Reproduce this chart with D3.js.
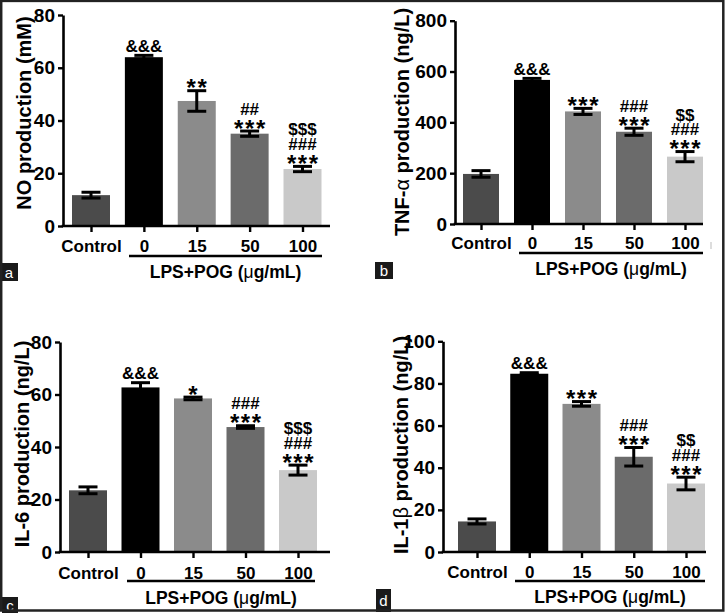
<!DOCTYPE html>
<html><head><meta charset="utf-8">
<script src="https://cdn.jsdelivr.net/npm/d3@7"></script>
<style>
body{margin:0;background:#fff}
svg{display:block}
text{font-family:"Liberation Sans",Arial,Helvetica,sans-serif;}
</style>
</head><body>
<svg id="chart" width="726" height="614"></svg>
<script>
// ---------- data ----------
const categories = ["Control", "0", "15", "50", "100"];
const groupLabel = "LPS+POG (μg/mL)";

const noMeans = [11.7, 64.0, 47.4, 35.0, 21.6];
const noErrs  = [1.1, 0.7, 3.9, 1.0, 1.0];
const noMarks = [[], ["&&&"], ["**"], ["***", "##"], ["***", "###", "$$$"]];
const noTicks = [0, 20, 40, 60, 80];

const tnfMeans = [197, 567, 443, 363, 265];
const tnfErrs  = [13, 6, 12, 14, 20];
const tnfMarks = [[], ["&&&"], ["***"], ["***", "###"], ["***", "###", "$$"]];
const tnfTicks = [0, 200, 400, 600, 800];

const il6Means = [23.5, 62.7, 58.5, 47.6, 31.2];
const il6Errs  = [1.3, 1.8, 0.5, 0.5, 1.9];
const il6Marks = [[], ["&&&"], ["*"], ["***", "###"], ["***", "###", "$$$"]];
const il6Ticks = [0, 20, 40, 60, 80];

const il1bMeans = [14.5, 84.6, 70.3, 45.2, 32.5];
const il1bErrs  = [1.2, 0.5, 1.1, 4.4, 3.0];
const il1bMarks = [[], ["&&&"], ["***"], ["***", "###"], ["***", "###", "$$"]];
const il1bTicks = [0, 20, 40, 60, 80, 100];

const barColors = ["#4b4b4b", "#000000", "#8b8b8b", "#6b6b6b", "#c9c9c9"];

// ---------- layout ----------
const panels = [
  {label: "a", title: "NO production (mM)", means: noMeans, errs: noErrs, marks: noMarks, ticks: noTicks,
   axisX: 63, yBottom: 226, yTop: 15, cx0: 91, cx1: 302.5, barW: 38, axisEnd: 330, catPad: 8,
   lineY: 256, lineX0: 129, lineX1: 322, groupY: 278, titleX: 24, titleY: 113,
   box: {x: 0, y: 263, w: 18, h: 18}},
  {label: "b", title: "TNF-α production (ng/L)", means: tnfMeans, errs: tnfErrs, marks: tnfMarks, ticks: tnfTicks,
   axisX: 455, yBottom: 224, yTop: 20.7, cx0: 481, cx1: 685, barW: 36, axisEnd: 703, catPad: 7,
   lineY: 253, lineX0: 519, lineX1: 703, groupY: 275, titleX: 402, titleY: 122,
   box: {x: 375, y: 262, w: 18, h: 17}},
  {label: "c", title: "IL-6 production (ng/L)", means: il6Means, errs: il6Errs, marks: il6Marks, ticks: il6Ticks,
   axisX: 60, yBottom: 552, yTop: 342, cx0: 88, cx1: 298, barW: 38, axisEnd: 330, catPad: 9,
   lineY: 581, lineX0: 127, lineX1: 315, groupY: 604, titleX: 22, titleY: 444,
   box: {x: 2, y: 597, w: 16, h: 16}},
  {label: "d", title: "IL-1β production (ng/L)", means: il1bMeans, errs: il1bErrs, marks: il1bMarks, ticks: il1bTicks,
   axisX: 443, yBottom: 552, yTop: 341.3, cx0: 477, cx1: 686, barW: 38, axisEnd: 706, catPad: 7.5,
   lineY: 581, lineX0: 515, lineX1: 705, groupY: 603, titleX: 401, titleY: 445,
   box: {x: 376, y: 589, w: 15, h: 23}}
];

const svg = d3.select("#chart");
svg.append("rect").attr("width", 726).attr("height", 614).attr("fill", "#fff");

// helper: text with Greek letters in normal weight
function richText(sel, str) {
  str.split(/([αβμ])/).filter(s => s.length).forEach(part => {
    const t = sel.append("tspan").text(part);
    if (/[αβμ]/.test(part)) t.attr("font-weight", "normal");
  });
}

panels.forEach(p => {
  const g = svg.append("g");
  const yMax = p.ticks[p.ticks.length - 1];
  const y = d3.scaleLinear().domain([0, yMax]).range([p.yBottom, p.yTop]);
  const x = d3.scalePoint().domain(categories).range([p.cx0, p.cx1]);

  // bars
  g.selectAll("rect.bar").data(categories).join("rect")
    .attr("class", "bar")
    .attr("x", d => x(d) - p.barW / 2)
    .attr("width", p.barW)
    .attr("y", (d, i) => y(p.means[i]))
    .attr("height", (d, i) => y(0) - y(p.means[i]))
    .attr("fill", (d, i) => barColors[i]);

  // error bars
  const eb = g.selectAll("g.err").data(categories).join("g").attr("class", "err")
    .attr("stroke", "#000").attr("stroke-width", 3).attr("fill", "none");
  eb.append("line")
    .attr("x1", d => x(d)).attr("x2", d => x(d))
    .attr("y1", (d, i) => y(p.means[i] - p.errs[i]))
    .attr("y2", (d, i) => y(p.means[i] + p.errs[i]));
  eb.append("line")
    .attr("x1", d => x(d) - 9.5).attr("x2", d => x(d) + 9.5)
    .attr("y1", (d, i) => y(p.means[i] + p.errs[i]))
    .attr("y2", (d, i) => y(p.means[i] + p.errs[i]));
  eb.append("line")
    .attr("x1", d => x(d) - 9.5).attr("x2", d => x(d) + 9.5)
    .attr("y1", (d, i) => y(p.means[i] - p.errs[i]))
    .attr("y2", (d, i) => y(p.means[i] - p.errs[i]));

  // significance marks
  categories.forEach((c, i) => {
    const top = y(p.means[i] + p.errs[i]);
    p.marks[i].forEach((m, k) => {
      const isStar = m[0] === "*";
      const center = top - (k === 0 ? (isStar ? 8 : 9.5) : 8 + k * 14.5);
      const fs = isStar ? 24 : 17;
      const off = isStar ? 0.57 * fs : 0.355 * fs;
      g.append("text")
        .attr("x", x(c) + (isStar ? 0.8 : 0)).attr("y", center + off)
        .attr("text-anchor", "middle")
        .attr("font-size", fs).attr("font-weight", "bold")
        .attr("letter-spacing", isStar ? 1.6 : 0)
        .text(m);
    });
  });

  // y axis
  const ya = g.append("g").attr("transform", `translate(${p.axisX},0)`)
    .call(d3.axisLeft(y).tickValues(p.ticks).tickSize(5).tickSizeOuter(0).tickPadding(3));
  ya.select(".domain").attr("stroke-width", 2.6).attr("stroke", "#000");
  ya.selectAll(".tick line").attr("stroke-width", 2.4).attr("stroke", "#000");
  ya.selectAll(".tick text").attr("font-size", 19).attr("font-weight", "bold")
    .attr("fill", "#000");
  ya.attr("font-family", null);

  // x axis
  const xa = g.append("g").attr("transform", `translate(0,${p.yBottom})`)
    .call(d3.axisBottom(x).tickSize(6).tickSizeOuter(0).tickPadding(p.catPad));
  xa.select(".domain").remove();
  xa.attr("font-family", null);
  xa.selectAll(".tick line").attr("stroke-width", 2.4).attr("stroke", "#000");
  xa.selectAll(".tick text").attr("font-size", 17).attr("font-weight", "bold").attr("fill", "#000");
  g.append("line")
    .attr("x1", p.axisX - 1.3).attr("x2", p.axisEnd)
    .attr("y1", p.yBottom).attr("y2", p.yBottom)
    .attr("stroke", "#000").attr("stroke-width", 2.6);

  // group underline & label
  g.append("line")
    .attr("x1", p.lineX0).attr("x2", p.lineX1)
    .attr("y1", p.lineY).attr("y2", p.lineY)
    .attr("stroke", "#000").attr("stroke-width", 2.4);
  const gl = g.append("text")
    .attr("x", (p.lineX0 + p.lineX1) / 2).attr("y", p.groupY)
    .attr("text-anchor", "middle").attr("font-size", 17.5).attr("font-weight", "bold");
  richText(gl, groupLabel);

  // y title
  const tt = g.append("text")
    .attr("transform", `translate(${p.titleX},${p.titleY}) rotate(-90)`)
    .attr("text-anchor", "middle").attr("dominant-baseline", "central")
    .attr("font-size", 20).attr("font-weight", "bold");
  richText(tt, p.title);

  // panel letter box
  g.append("rect").attr("x", p.box.x).attr("y", p.box.y)
    .attr("width", p.box.w).attr("height", p.box.h).attr("fill", "#1a1a1a");
  g.append("text")
    .attr("x", p.box.x + p.box.w / 2).attr("y", p.box.y + p.box.h / 2)
    .attr("text-anchor", "middle").attr("dominant-baseline", "central")
    .attr("font-size", 15).attr("fill", "#fff").text(p.label);
});

// small stray mark in panel b
svg.append("line").attr("x1", 711).attr("x2", 711).attr("y1", 242).attr("y2", 249)
  .attr("stroke", "#bbb").attr("stroke-width", 1);

// outer frame
svg.append("rect").attr("x", 1.2).attr("y", 0.9).attr("width", 722.1).attr("height", 609.6)
  .attr("fill", "none").attr("stroke", "#222").attr("stroke-width", 2.5);
</script>
</body></html>
